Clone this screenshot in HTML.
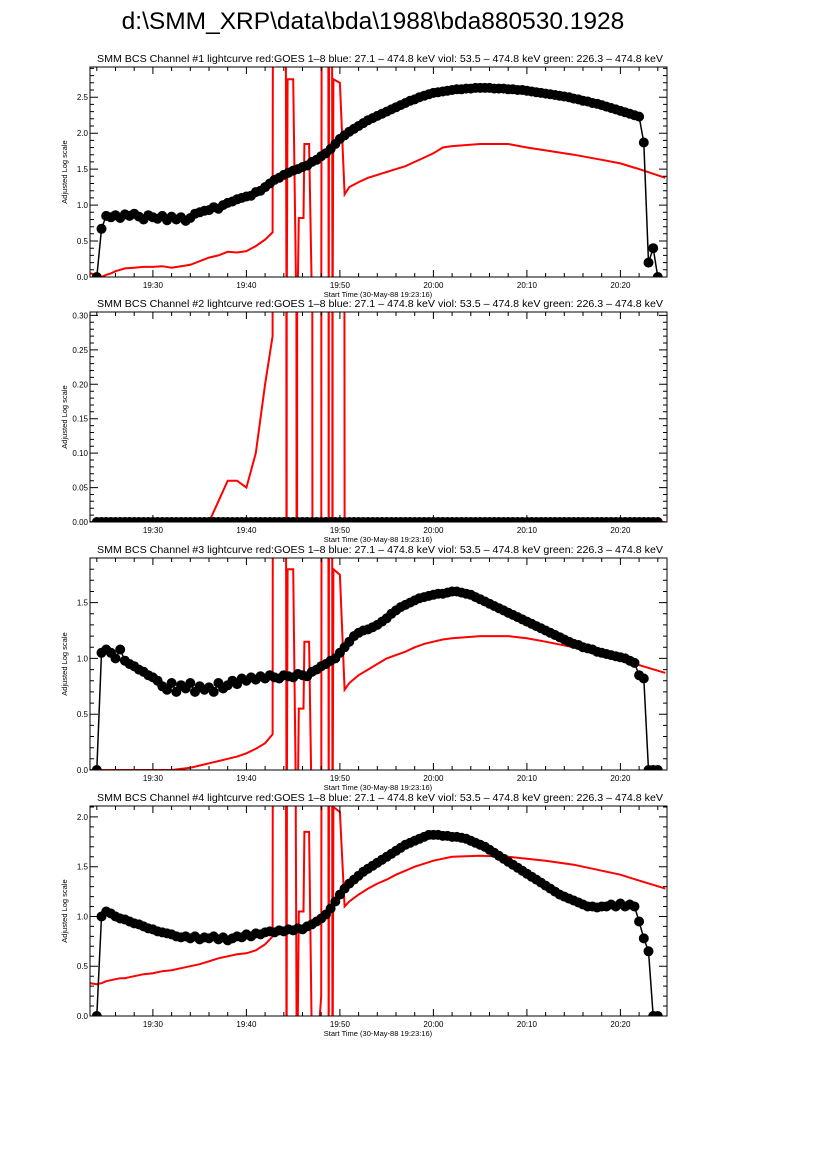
<!DOCTYPE html>
<html><head><meta charset="utf-8"><style>
body{margin:0;background:#fff;width:826px;height:1169px;overflow:hidden}
svg{display:block}
text{font-family:"Liberation Sans",sans-serif}
</style></head><body>
<svg id="chart" width="826" height="1169" xmlns="http://www.w3.org/2000/svg">
<text x="373" y="29" font-size="24.5" text-anchor="middle">d:\SMM_XRP\data\bda\1988\bda880530.1928</text>
</svg>
<script>
// ---- data ----
const blackStart = 24.0, blackStep = 0.5;
const black1 = [0,0.67,0.85,0.83,0.86,0.82,0.87,0.85,0.88,0.84,0.80,0.86,0.83,0.81,0.85,0.79,0.84,0.80,0.83,0.78,0.82,0.88,0.90,0.92,
0.93,0.97,0.95,1.0,1.03,1.05,1.08,1.1,1.12,1.13,1.18,1.2,1.25,1.3,
1.35,1.38,1.42,1.45,1.48,1.5,1.53,1.55,1.6,1.63,1.68,1.72,1.78,1.85,
1.92,1.97,2.02,2.06,2.1,2.14,2.18,2.21,2.24,2.27,2.3,2.33,2.36,2.39,2.42,2.45,2.47,2.5,2.52,2.54,
2.56,2.57,2.58,2.59,2.6,2.61,2.61,2.62,2.62,2.63,2.63,2.63,2.63,2.62,2.62,2.62,2.61,2.61,2.6,2.6,
2.59,2.58,2.57,2.56,2.55,2.54,2.53,2.52,2.51,2.5,2.48,2.47,2.45,2.44,2.42,2.41,2.39,2.37,2.35,2.33,2.31,2.29,2.27,2.25,
2.23,1.87,0.2,0.4,0.0];
const black2 = [0,0,0,0,0,0,0,0,0,0,0,0,0,0,0,0,0,0,0,0,0,0,0,0,
0,0,0,0,0,0,0,0,0,0,0,0,0,0,
0,0,0,0,0,0,0,0,0,0,0,0,0,0,
0,0,0,0,0,0,0,0,0,0,0,0,0,0,0,0,0,0,0,0,
0,0,0,0,0,0,0,0,0,0,0,0,0,0,0,0,0,0,0,0,
0,0,0,0,0,0,0,0,0,0,0,0,0,0,0,0,0,0,0,0,0,0,0,0,
0,0,0,0,0];
const black3 = [0,1.05,1.08,1.05,1.0,1.08,0.98,0.95,0.93,0.9,0.88,0.85,0.83,0.8,0.75,0.72,0.78,0.7,0.76,0.73,0.78,0.7,0.75,0.72,
0.74,0.7,0.78,0.73,0.76,0.8,0.77,0.82,0.8,0.83,0.81,0.84,0.82,0.85,
0.83,0.82,0.85,0.84,0.83,0.86,0.85,0.84,0.88,0.9,0.93,0.95,0.98,1.0,
1.05,1.1,1.15,1.2,1.23,1.25,1.26,1.28,1.3,1.33,1.36,1.4,1.43,1.46,1.48,1.5,1.52,1.54,1.55,1.56,
1.57,1.58,1.58,1.59,1.6,1.6,1.59,1.58,1.57,1.55,1.53,1.51,1.49,1.47,1.45,1.43,1.41,1.39,1.37,1.35,
1.33,1.31,1.29,1.27,1.25,1.23,1.21,1.19,1.17,1.15,1.13,1.12,1.1,1.09,1.08,1.06,1.05,1.04,1.03,1.02,1.01,1.0,0.98,0.96,
0.85,0.82,0.0,0.0,0.0];
const black4 = [0,1.0,1.05,1.03,1.0,0.98,0.97,0.95,0.93,0.92,0.9,0.88,0.87,0.85,0.84,0.83,0.82,0.8,0.79,0.8,0.78,0.8,0.77,0.79,
0.78,0.8,0.77,0.79,0.76,0.78,0.8,0.79,0.82,0.8,0.83,0.82,0.84,0.85,
0.84,0.86,0.85,0.87,0.86,0.88,0.87,0.9,0.92,0.95,0.98,1.02,1.08,1.15,
1.22,1.28,1.33,1.37,1.41,1.45,1.48,1.51,1.54,1.57,1.6,1.63,1.66,1.69,1.72,1.74,1.76,1.78,1.8,1.82,
1.82,1.82,1.81,1.81,1.8,1.8,1.79,1.78,1.76,1.74,1.72,1.7,1.67,1.64,1.61,1.58,1.55,1.52,1.49,1.46,
1.43,1.4,1.37,1.34,1.31,1.28,1.25,1.22,1.2,1.18,1.16,1.14,1.12,1.1,1.1,1.09,1.1,1.1,1.12,1.1,1.13,1.1,1.12,1.1,
0.95,0.78,0.65,0.0,0.0];
const redTimes = [23.3,24,24.5,25,25.5,26,26.5,27,28,29,30,31,32,33,34,35,36,37,38,39,40,41,42,42.8,
42.9,43.0,44.1,44.3,44.4,45.0,45.4,45.6,46.1,46.2,46.7,47.1,48.0,48.1,48.7,48.8,48.9,49.1,49.2,49.3,50.0,
50.5,51,52,53,54,55,56,57,58,59,60,61,62,65,68,70,72,75,78,80,82,84.8];
const red1 = [0.05,0.03,0.0,0.03,0.05,0.08,0.1,0.12,0.13,0.14,0.14,0.15,0.13,0.15,0.17,0.22,0.27,0.3,0.35,0.34,0.36,0.43,0.52,0.62,
9,9,9,-1,2.75,2.75,-1,0.82,0.82,1.85,1.85,-1,-1,9,9,-1,9,9,-1,2.75,2.7,
1.15,1.25,1.32,1.38,1.42,1.46,1.5,1.54,1.6,1.66,1.72,1.8,1.82,1.85,1.85,1.8,1.76,1.7,1.63,1.58,1.5,1.38];
const red2 = [0,0,0,0,0,0,0,0,0,0,0,0,0,0,0,0,0,0.03,0.06,0.06,0.05,0.1,0.2,0.27,
9,9,9,-1,9,9,-1,9,9,9,9,-1,-1,9,9,-1,9,9,-1,9,9,
0,0,0,0,0,0,0,0,0,0,0,0,0,0,0,0,0,0,0,0,0,0];
const red3 = [0,0,0,0,0,0,0,0,0,0,0,0,0,0.01,0.02,0.04,0.06,0.08,0.1,0.12,0.15,0.19,0.24,0.32,
9,9,9,-1,1.8,1.8,-1,0.55,0.55,1.15,1.15,-1,-1,9,9,-1,9,9,-1,1.8,1.75,
0.72,0.78,0.85,0.9,0.95,1.0,1.03,1.06,1.1,1.13,1.15,1.17,1.18,1.2,1.2,1.18,1.15,1.1,1.03,0.99,0.94,0.87];
const red4 = [0.33,0.32,0.33,0.35,0.36,0.37,0.38,0.38,0.4,0.42,0.43,0.45,0.46,0.48,0.5,0.52,0.55,0.58,0.6,0.62,0.63,0.66,0.72,0.8,
9,9,9,-1,9,9,-1,1.05,1.05,1.85,1.85,-1,0.2,9,9,-1,9,9,-1,2.1,2.05,
1.1,1.15,1.22,1.28,1.33,1.37,1.42,1.46,1.5,1.53,1.56,1.58,1.6,1.61,1.6,1.58,1.56,1.52,1.46,1.42,1.36,1.28];
const xTickMinutes = [30,40,50,60,70,80];
const xTickLabels = ["19:30","19:40","19:50","20:00","20:10","20:20"];
const yMax = [2.92,0.305,1.9,2.11];
const yTicks1 = [0,0.5,1.0,1.5,2.0,2.5];
const yTicks2 = [0,0.05,0.10,0.15,0.20,0.25,0.30];
const yTicks3 = [0,0.5,1.0,1.5];
const yTicks4 = [0,0.5,1.0,1.5,2.0];

// ---- layout ----
const NS="http://www.w3.org/2000/svg";
const svg=document.getElementById('chart');
const X0=90,X1=667,T0=23.27,T1=84.98;
const panels=[{top:67,bot:277},{top:312,bot:522},{top:558,bot:770},{top:806,bot:1016}];
const blacks=[black1,black2,black3,black4];
const reds=[red1,red2,red3,red4];
const yTicks=[yTicks1,yTicks2,yTicks3,yTicks4];
const yDec=[1,2,1,1];
function xs(t){return X0+(t-T0)/(T1-T0)*(X1-X0);}
function mk(tag,attrs,parent){const e=document.createElementNS(NS,tag);for(const k in attrs)e.setAttribute(k,attrs[k]);(parent||svg).appendChild(e);return e;}

panels.forEach((p,i)=>{
  const ys=v=>p.bot-(v/yMax[i])*(p.bot-p.top);
  const g=mk('g',{});
  
  
  const cid='clip'+i;
  const cp=mk('clipPath',{id:cid},g);
  mk('rect',{x:X0,y:p.top,width:X1-X0,height:p.bot-p.top},cp);
  const t=mk('text',{x:380,y:p.top-5,'font-size':'10.2','text-anchor':'middle',textLength:'566',lengthAdjust:'spacingAndGlyphs'},g);
  t.textContent='SMM BCS Channel #'+(i+1)+' lightcurve  red:GOES 1\u20138  blue: 27.1 \u2013 474.8 keV  viol: 53.5 \u2013 474.8 keV  green: 226.3 \u2013 474.8 keV';
  
  
  let d='';
  redTimes.forEach((tm,k)=>{d+=(k?'L':'M')+xs(tm).toFixed(1)+','+ys(reds[i][k]).toFixed(1);});
  const rp=mk('path',{d:d,fill:'none',stroke:'#ff0000','stroke-width':'2','clip-path':'url(#'+cid+')'},g);
  
  
  const bg=mk('g',{'clip-path':'url(#'+cid+')'},g);
  
  
  let bd='';
  blacks[i].forEach((v,k)=>{bd+=(k?'L':'M')+xs(blackStart+k*blackStep).toFixed(1)+','+ys(v).toFixed(1);});
  mk('path',{d:bd,fill:'none',stroke:'#000','stroke-width':'1.5'},bg);
  blacks[i].forEach((v,k)=>{
    const c=mk('circle',{cx:xs(blackStart+k*blackStep).toFixed(1),cy:ys(v).toFixed(1),r:5,fill:'#000'},bg);
    
    
  });
  const fr=mk('rect',{x:X0,y:p.top,width:X1-X0,height:p.bot-p.top,fill:'none',stroke:'#000','stroke-width':'1'},g);
  
  
  let td='';
  for(let m=24;m<=84;m+=2){const x=xs(m).toFixed(1);const L=(m%10===0)?7:4;td+='M'+x+','+p.bot+'v-'+L+'M'+x+','+p.top+'v'+L;}
  const yt=yTicks[i];const step=yt[1]-yt[0];
  for(let v=0;v<=yMax[i]+1e-9;v+=step/5){const y=ys(v).toFixed(1);const maj=Math.abs(v/step-Math.round(v/step))<1e-6;const L=maj?8:4;td+='M'+X0+','+y+'h'+L+'M'+X1+','+y+'h-'+L;}
  mk('path',{d:td,stroke:'#000','stroke-width':'1',fill:'none'},g);
  xTickLabels.forEach((lb,k)=>{
    const tx=mk('text',{x:xs(xTickMinutes[k]),y:p.bot+11,'font-size':'8','text-anchor':'middle'},g);
    tx.textContent=lb;
    
    
  });
  yt.forEach(v=>{
    const ty=mk('text',{x:X0-2,y:ys(v)+3,'font-size':'8','text-anchor':'end'},g);
    ty.textContent=v.toFixed(yDec[i]);
    
    
  });
  const xt=mk('text',{x:378,y:p.bot+20,'font-size':'7.5','text-anchor':'middle'},g);
  xt.textContent='Start Time (30-May-88 19:23:16)';
  
  
  const yc=(p.top+p.bot)/2;
  const ya=mk('text',{x:67,y:yc,'font-size':'7.5','text-anchor':'middle',transform:'rotate(-90 67 '+yc+')'},g);
  ya.textContent='Adjusted Log scale';
  
  
});
</script>
</body></html>
